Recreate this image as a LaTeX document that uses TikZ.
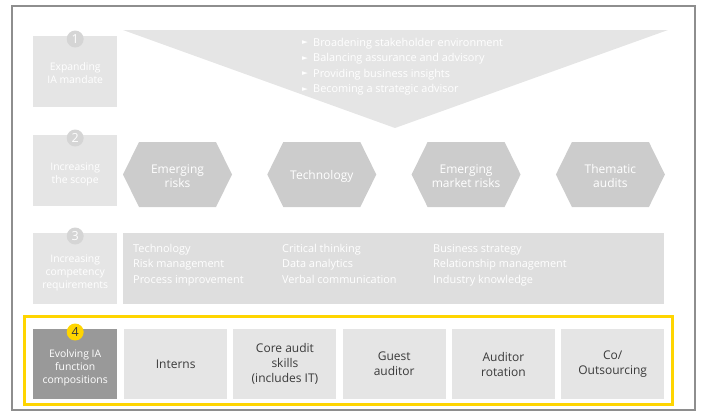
\documentclass[tikz,border=0pt]{standalone}
\usepackage{fontspec}
\setmainfont{Open Sans}
\newfontfamily\symfont{DejaVu Sans}
\usetikzlibrary{calc}
\definecolor{framegray}{HTML}{8E8E8E}
\definecolor{boxlight}{HTML}{E5E5E5}
\definecolor{boxmid}{HTML}{DEDEDE}
\definecolor{hexgray}{HTML}{CCCCCC}
\definecolor{numgray}{HTML}{D5D5D5}
\definecolor{darkbox}{HTML}{999999}
\definecolor{eyyellow}{HTML}{FFD500}
\definecolor{textdark}{HTML}{3A3A3A}

\begin{document}
\begin{tikzpicture}[x=1pt,y=-1pt,
    stagebox/.style={fill=boxlight, minimum width=84pt, minimum height=70.5pt,
        inner sep=0pt, anchor=north west},
    stagetext/.style={text=white, align=center, font=\fontsize{10.4}{13}\selectfont},
    stepnum/.style={circle, fill=numgray, minimum size=17pt, inner sep=0pt,
        text=white, font=\fontsize{12.5}{12.5}\selectfont},
    hextext/.style={text=white, align=center, font=\fontsize{12}{14.5}\selectfont},
    listtext/.style={text=white, align=left, anchor=north west, inner sep=0pt,
        font=\fontsize{10.9}{15.5}\selectfont},
    compbox/.style={fill=boxlight, minimum width=103pt, minimum height=70pt,
        inner sep=0pt, anchor=north west},
    comptext/.style={text=textdark, align=center, font=\fontsize{12}{15}\selectfont}
]
\useasboundingbox (0,0) rectangle (702,410);

% outer frame
\draw[framegray, line width=2pt] (11.5,5.5) rectangle (694.5,409.5);

% row 1
\fill[boxlight] (123,30) -- (668,30) -- (395,128) -- cycle;
\node[stagebox] (s1) at (33,36) {};
\node[stagetext] (s1t) at ($(s1.center)+(0,2)$) {Expanding\\IA mandate};
\node[stepnum] (n1) at ($(s1.north)+(0,3)$) {1};
\node[listtext] (b1) at (313,38) {Broadening stakeholder environment\\
    Balancing assurance and advisory\\Providing business insights\\
    Becoming a strategic advisor};
\foreach \i in {0,...,3}
    \node[text=white, inner sep=0pt, font=\symfont\fontsize{7.5}{7.5}\selectfont]
        (a\i) at (305,{43+15.5*\i}) {►};

% row 2
\node[stagebox] (s2) at (33,135) {};
\node[stagetext] (s2t) at ($(s2.center)+(0,4)$) {Increasing\\the scope};
\node[stepnum] (n2) at ($(s2.north)+(0,3)$) {2};
\foreach \lbl [count=\i from 0] in {Emerging\\risks, Technology,
        Emerging\\market risks, Thematic\\audits} {
    \fill[hexgray] ({177.5+144.3*\i-54.5},174.5) -- ({177.5+144.3*\i-38.5},142)
        -- ({177.5+144.3*\i+38.5},142) -- ({177.5+144.3*\i+54.5},174.5)
        -- ({177.5+144.3*\i+38.5},207) -- ({177.5+144.3*\i-38.5},207) -- cycle;
    \node[hextext] (h\i) at ({177.5+144.3*\i},176) {\lbl};
}

% row 3
\node[stagebox] (s3) at (33,233) {};
\node[stagetext] (s3t) at ($(s3.center)+(0,4)$) {Increasing\\competency\\requirements};
\node[stepnum] (n3) at ($(s3.north)+(0,3)$) {3};
\node[fill=boxmid, minimum width=541pt, minimum height=70.5pt, inner sep=0pt,
    anchor=north west] (skills) at (123,233) {};
\node[listtext] (c1) at (133,244) {Technology\\Risk management\\Process improvement};
\node[listtext] (c2) at (282,244) {Critical thinking\\Data analytics\\Verbal communication};
\node[listtext] (c3) at (433,244) {Business strategy\\Relationship management\\Industry knowledge};

% row 4
\draw[eyyellow, line width=3pt] (24.5,316.5) rectangle (672,404);
\node[stagebox, fill=darkbox, minimum height=70pt] (s4) at (33,329) {};
\node[stagetext] (s4t) at ($(s4.center)+(0,4)$) {Evolving IA\\function\\compositions};
\node[stepnum, fill=eyyellow, text=textdark] (n4) at ($(s4.north)+(0,3)$) {4};
\foreach \lbl [count=\i from 0] in {Interns, Core audit\\skills\\(includes IT),
        Guest\\auditor, Auditor\\rotation, Co/\\Outsourcing} {
    \node[compbox] (k\i) at ({124+109.25*\i},329) {};
    \node[comptext] (kt\i) at (k\i.center) {\lbl};
}
\end{tikzpicture}
\end{document}
